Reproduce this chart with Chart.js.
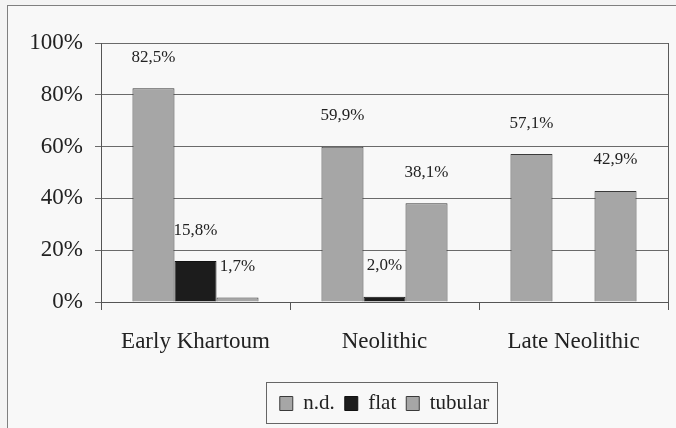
<!DOCTYPE html>
<html lang="en">
<head>
<meta charset="UTF-8">
<title>Paste types by period</title>
<script src="https://cdn.jsdelivr.net/npm/chart.js"></script>
<style>
  html, body { margin: 0; padding: 0; background: #f4f4f4; }
  #wrap { position: relative; width: 676px; height: 428px; overflow: hidden; }
  #frame { position: absolute; left: 7px; top: 5px; width: 700px; height: 460px; border: 1px solid #808080; background: #f8f8f8; }
  #chart { position: absolute; left: 0; top: 0; }
</style>
</head>
<body>
<div id="wrap">
  <div id="frame"></div>
  <canvas id="chart" width="676" height="428"></canvas>
</div>
<script>
// values (percent)
const periods = ['Early Khartoum', 'Neolithic', 'Late Neolithic'];
const ndValues = [82.5, 59.9, 57.1];
const flatValues = [15.8, 2.0, 0];
const tubularValues = [1.7, 38.1, 42.9];
const yTicks = [0, 20, 40, 60, 80, 100];

const serif = '"Liberation Serif", "Times New Roman", serif';
const grey = '#a6a6a6';
const black = '#1c1c1c';

// percent labels above each bar, comma decimals like the original
const barLabels = {
  id: 'barLabels',
  afterDatasetsDraw(chart) {
    const ctx = chart.ctx;
    ctx.save();
    ctx.font = '17px ' + serif;
    ctx.fillStyle = '#222';
    ctx.textAlign = 'center';
    ctx.textBaseline = 'middle';
    chart.data.datasets.forEach((ds, i) => {
      chart.getDatasetMeta(i).data.forEach((bar, j) => {
        const v = ds.data[j];
        if (!v) return;
        ctx.fillText(v.toFixed(1).replace('.', ',') + '%', bar.x, bar.y - 31);
      });
    });
    ctx.restore();
  }
};

// right edge of plot + box round the legend
const frames = {
  id: 'frames',
  afterDraw(chart) {
    const ctx = chart.ctx;
    const a = chart.chartArea;
    ctx.save();
    ctx.strokeStyle = '#5a5a5a';
    ctx.lineWidth = 1;
    ctx.beginPath();
    ctx.moveTo(Math.round(a.right) + 0.5, a.top);
    ctx.lineTo(Math.round(a.right) + 0.5, a.bottom);
    ctx.stroke();

    const hb = chart.legend.legendHitBoxes;
    if (hb && hb.length) {
      const first = hb[0], last = hb[hb.length - 1];
      const left = Math.round(first.left - 14) + 0.5;
      const right = Math.round(last.left + last.width + 8) + 0.5;
      const top = Math.round(first.top - 11) + 0.5;
      const bottom = Math.round(first.top + first.height + 9) + 0.5;
      ctx.strokeStyle = '#666';
      ctx.strokeRect(left, top, right - left, bottom - top);
    }
    ctx.restore();
  }
};

new Chart(document.getElementById('chart'), {
  type: 'bar',
  data: {
    labels: periods,
    datasets: [
      { label: 'n.d.', data: ndValues, backgroundColor: grey, borderColor: '#3a3a3a', borderWidth: 1 },
      { label: 'flat', data: flatValues, backgroundColor: black, borderColor: '#111', borderWidth: 1 },
      { label: 'tubular', data: tubularValues, backgroundColor: grey, borderColor: '#3a3a3a', borderWidth: 1 }
    ]
  },
  options: {
    responsive: false,
    animation: false,
    datasets: { bar: { categoryPercentage: 0.667, barPercentage: 1 } },
    layout: { padding: { left: 10, right: 8, top: 43, bottom: 4 } },
    plugins: {
      tooltip: { enabled: false },
      legend: {
        position: 'bottom',
        fullSize: false,
        labels: {
          font: { family: serif, size: 21 },
          color: '#222',
          boxWidth: 13,
          boxHeight: 14,
          padding: 10
        }
      }
    },
    scales: {
      x: {
        afterFit: s => { s.height = 81; },
        grid: { drawOnChartArea: false, drawTicks: true, tickLength: 8, color: '#555' },
        border: { color: '#555' },
        ticks: { font: { family: serif, size: 23 }, color: '#222', padding: 18 }
      },
      y: {
        min: 0,
        max: 100,
        afterFit: s => { s.width = 91; },
        afterBuildTicks: s => { s.ticks = yTicks.map(v => ({ value: v })); },
        grid: { color: '#6a6a6a', tickLength: 6 },
        border: { color: '#555' },
        ticks: {
          font: { family: serif, size: 23 },
          color: '#222',
          padding: 12,
          callback: v => v + '%'
        }
      }
    }
  },
  plugins: [barLabels, frames]
});
</script>
</body>
</html>
